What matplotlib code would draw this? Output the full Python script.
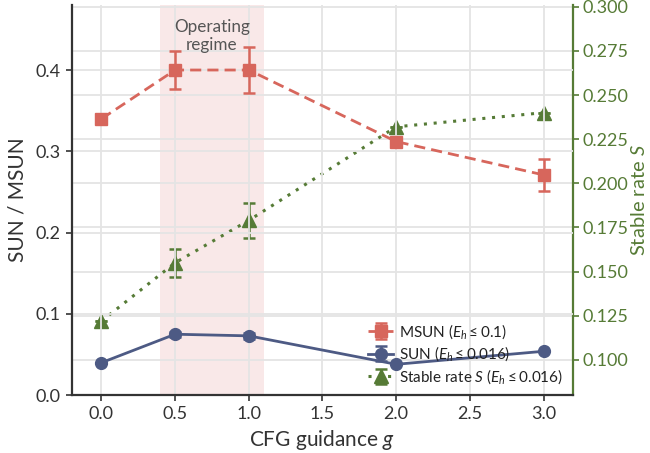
import matplotlib
matplotlib.use("Agg")
import matplotlib.pyplot as plt
from matplotlib.legend_handler import HandlerTuple
import numpy as np

plt.rcParams["font.family"] = ["Lato", "DejaVu Sans"]
plt.rcParams["mathtext.fontset"] = "custom"
plt.rcParams["mathtext.rm"] = "Lato"
plt.rcParams["mathtext.it"] = "Lato:italic"
plt.rcParams["mathtext.bf"] = "Lato:bold"

# CFG guidance values
g = [0.0, 0.5, 1.0, 2.0, 3.0]

# MSUN (E_h <= 0.1)
msun = [0.340, 0.400, 0.400, 0.312, 0.271]
msun_err = [0.0, 0.023, 0.028, 0.0, 0.020]

# SUN (E_h <= 0.016)
sun = [0.040, 0.075, 0.073, 0.038, 0.054]
sun_err = [0.0, 0.003, 0.004, 0.0, 0.0]

# Stable rate S (E_h <= 0.016)
stable = [0.122, 0.155, 0.179, 0.232, 0.240]
stable_err = [0.0, 0.008, 0.010, 0.0, 0.0]

regime = (0.4, 1.1)

RED = "#d7665c"
NAVY = "#4d5a84"
GREEN = "#567b36"
DARK = "#333333"
GRID = "#e4e4e4"

fig = plt.figure(figsize=(6.5, 4.53), dpi=100)
ax = fig.add_axes([0.1108, 0.1276, 0.7707, 0.8614])
ax2 = ax.twinx()

# left axes on top, right axes (with its grid and shading) behind
ax.set_zorder(ax2.get_zorder() + 1)
ax.patch.set_visible(False)

ax2.axvspan(*regime, color="#f6dcdc", alpha=0.65, lw=0, zorder=0)

ax.set_xlim(-0.2, 3.2)
ax.set_ylim(0.0, 0.48)
ax2.set_ylim(0.08, 0.301)

ax.set_xticks(np.arange(0, 3.01, 0.5))
ax.set_yticks(np.arange(0, 0.41, 0.1))
ax2.set_yticks(np.arange(0.1, 0.301, 0.025))
ax.yaxis.set_major_formatter(matplotlib.ticker.FormatStrFormatter("%.1f"))
ax2.yaxis.set_major_formatter(matplotlib.ticker.FormatStrFormatter("%.3f"))

ax.grid(True, color=GRID, lw=1.3, zorder=0)
ax2.grid(True, axis="y", color=GRID, lw=1.3, zorder=1)
ax.set_axisbelow(True)


def series(axis, y, yerr, color, style, lw, marker, ms):
    """Connecting line plus markers with solid error bars."""
    line, = axis.plot(g, y, color=color, linestyle=style, lw=lw, zorder=3)
    eb = axis.errorbar(g, y, yerr=yerr, color=color, linestyle="none",
                       marker=marker, ms=ms, capsize=4.5, elinewidth=1.8,
                       capthick=1.8, zorder=4)
    return (line, eb)


h1 = series(ax, msun, msun_err, RED, (0, (4, 2.2)), 2, "s", 9)
h2 = series(ax, sun, sun_err, NAVY, "-", 2, "o", 8.5)
h3 = series(ax2, stable, stable_err, GREEN, (0, (1, 2.2)), 2.2, "^", 10)

labels = [r"MSUN ($E_h \leq 0.1$)",
          r"SUN ($E_h \leq 0.016$)",
          r"Stable rate $S$ ($E_h \leq 0.016$)"]

ax.text(0.75, 0.442, "Operating\nregime", ha="center", va="center",
        fontsize=12.3, color="#555555", linespacing=1.2)

ax.set_xlabel(r"CFG guidance $g$", fontsize=15, color=DARK, labelpad=4)
ax.set_ylabel("SUN / MSUN", fontsize=15, color=DARK, labelpad=6)
ax2.set_ylabel(r"Stable rate $S$", fontsize=14.5, color=GREEN, labelpad=1)

for side in ("top", "right"):
    ax.spines[side].set_visible(False)
for side in ("top", "left", "bottom"):
    ax2.spines[side].set_visible(False)
for side in ("left", "bottom"):
    ax.spines[side].set_color(DARK)
    ax.spines[side].set_linewidth(1.6)
ax2.spines["right"].set_color(GREEN)
ax2.spines["right"].set_linewidth(1.6)

ax.tick_params(axis="both", labelsize=13, colors=DARK, length=4, width=1.2, pad=4)
ax2.tick_params(axis="y", labelsize=13, colors=GREEN, length=4, width=1.2, pad=3)

leg = ax.legend(handles=[h1, h2, h3], labels=labels,
                handler_map={tuple: HandlerTuple(ndivide=1)},
                loc="lower right", bbox_to_anchor=(0.998, 0.0),
                frameon=False, fontsize=11, labelspacing=0.25, handlelength=1.6,
                handletextpad=0.4, borderaxespad=0.2)
for t in leg.get_texts():
    t.set_color("#222222")

fig.savefig("out.png", dpi=100)
